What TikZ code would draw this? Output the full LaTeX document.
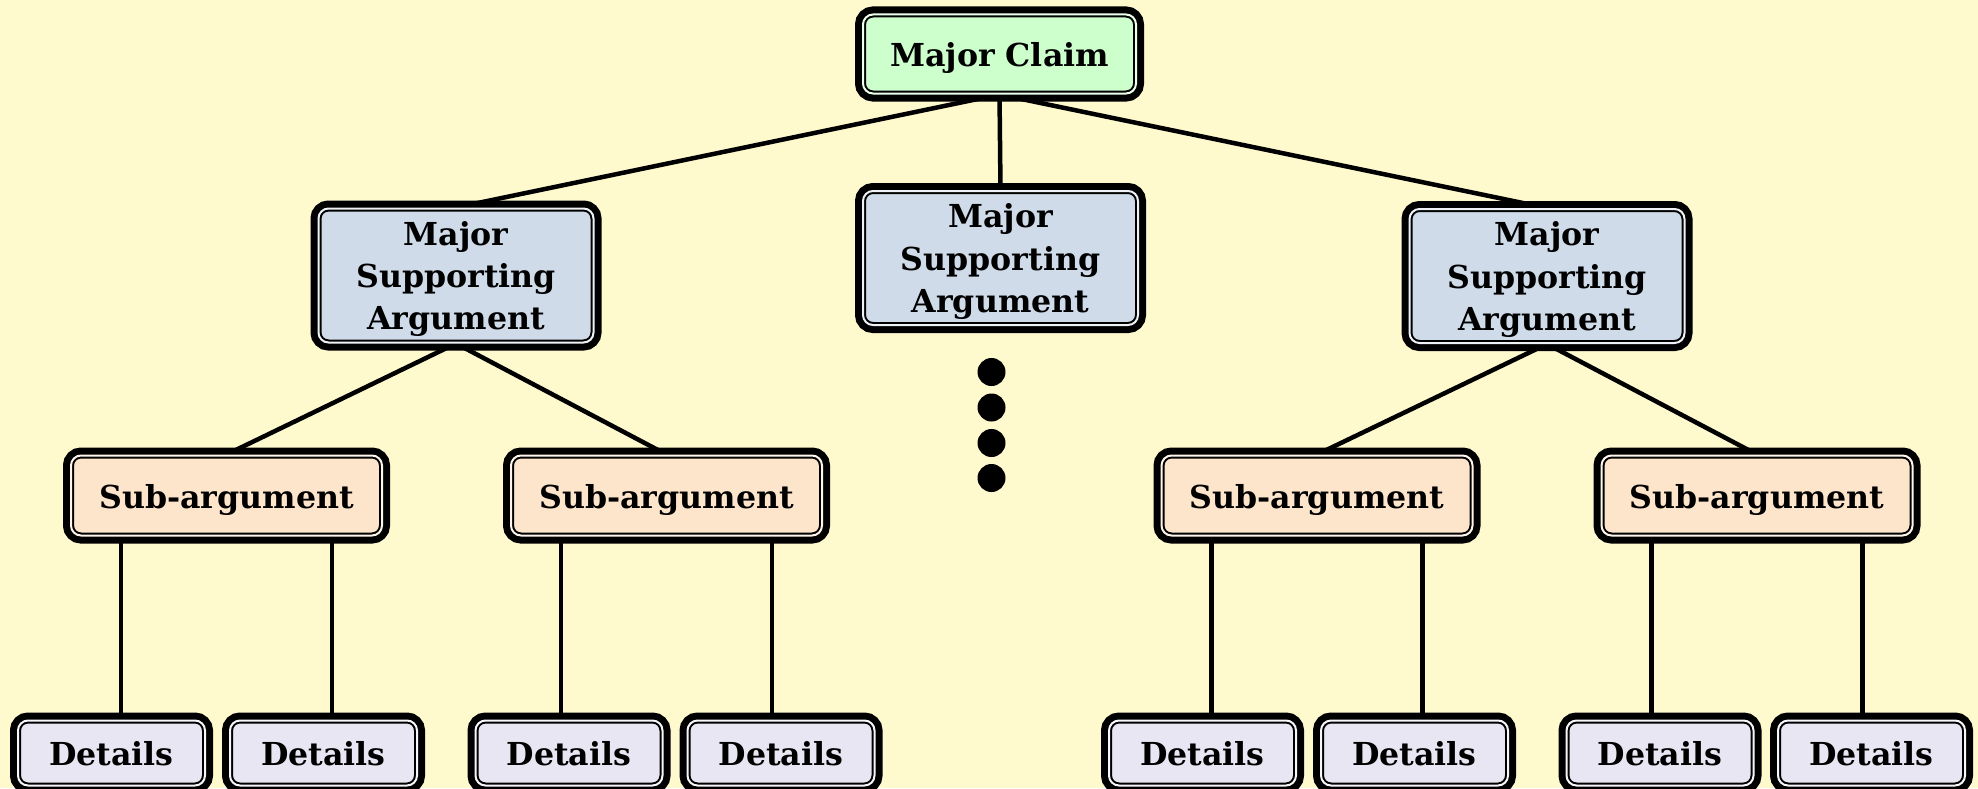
\documentclass[tikz,border=0pt]{standalone}
\usepackage{fontspec}
\setmainfont{DejaVu Serif}
\usetikzlibrary{backgrounds}
\definecolor{bgyellow}{HTML}{FFFACD}
\definecolor{claimgreen}{HTML}{CCFFCC}
\definecolor{argblue}{HTML}{CFDBE8}
\definecolor{subpeach}{HTML}{FDE5CB}
\definecolor{detlav}{HTML}{E8E6F2}
\begin{document}
\begin{tikzpicture}
	\tikzstyle{box}=[rounded corners=1mm,inner sep=0pt,align=center,font=\bfseries\fontsize{9}{12}\selectfont,preaction={draw=black,line width=1.6mm},draw=black,line width=0.2mm,double distance=0.2mm]
	\tikzstyle{oneline}=[text height=0.73em,text depth=0pt]
	\tikzstyle{claim}=[box,oneline,fill=claimgreen,double=claimgreen!35!white,minimum width=2.73cm,minimum height=0.79cm]
	\tikzstyle{arg}=[box,text depth=0pt,fill=argblue,double=argblue!35!white,minimum width=2.75cm,minimum height=1.34cm]
	\tikzstyle{sub}=[box,oneline,fill=subpeach,double=subpeach!35!white,minimum width=3.11cm,minimum height=0.8cm]
	\tikzstyle{det}=[box,oneline,fill=detlav,double=detlav!35!white,minimum width=1.87cm,minimum height=0.65cm]
	\tikzstyle{link}=[draw=black,line width=0.45mm]
	\useasboundingbox (0,0) rectangle (19.78,-7.88);
	\node[claim] (c) at (9.995,-0.54) {Major Claim};
	\node[arg] (m1) at (4.56,-2.755) {Major\\Supporting\\Argument};
	\node[arg] (m2) at (10.005,-2.58) {Major\\Supporting\\Argument};
	\node[arg] (m3) at (15.47,-2.76) {Major\\Supporting\\Argument};
	\node[sub] (s1) at (2.265,-4.955) {Sub-argument};
	\node[sub] (s2) at (6.665,-4.955) {Sub-argument};
	\node[sub] (s3) at (13.17,-4.955) {Sub-argument};
	\node[sub] (s4) at (17.57,-4.955) {Sub-argument};
	\node[det] (d1) at (1.115,-7.53) {Details};
	\node[det] (d2) at (3.235,-7.53) {Details};
	\node[det] (d3) at (5.69,-7.53) {Details};
	\node[det] (d4) at (7.81,-7.53) {Details};
	\node[det] (d5) at (12.025,-7.53) {Details};
	\node[det] (d6) at (14.145,-7.53) {Details};
	\node[det] (d7) at (16.60,-7.53) {Details};
	\node[det] (d8) at (18.715,-7.53) {Details};
	\foreach \y in {3.72,4.075,4.43,4.78}
		\fill (9.915,-\y) circle (0.14);
	\begin{pgfonlayer}{background}
		\fill[bgyellow] (0,0) rectangle (19.78,-7.88);
		\draw[link] (c.south) -- (m1.north);
		\draw[link] (c.south) -- (m2.north);
		\draw[link] (c.south) -- (m3.north);
		\draw[link] (m1.south) -- (s1.north);
		\draw[link] (m1.south) -- (s2.north);
		\draw[link] (m3.south) -- (s3.north);
		\draw[link] (m3.south) -- (s4.north);
		\foreach \s/\a/\b in {s1/d1/d2,s2/d3/d4,s3/d5/d6,s4/d7/d8}{
			\coordinate (l) at ([xshift=-1.055cm]\s.south);
			\coordinate (r) at ([xshift=1.055cm]\s.south);
			\draw[link] (l) -- (l |- \a.north);
			\draw[link] (r) -- (r |- \b.north);
		}
	\end{pgfonlayer}
\end{tikzpicture}
\end{document}
